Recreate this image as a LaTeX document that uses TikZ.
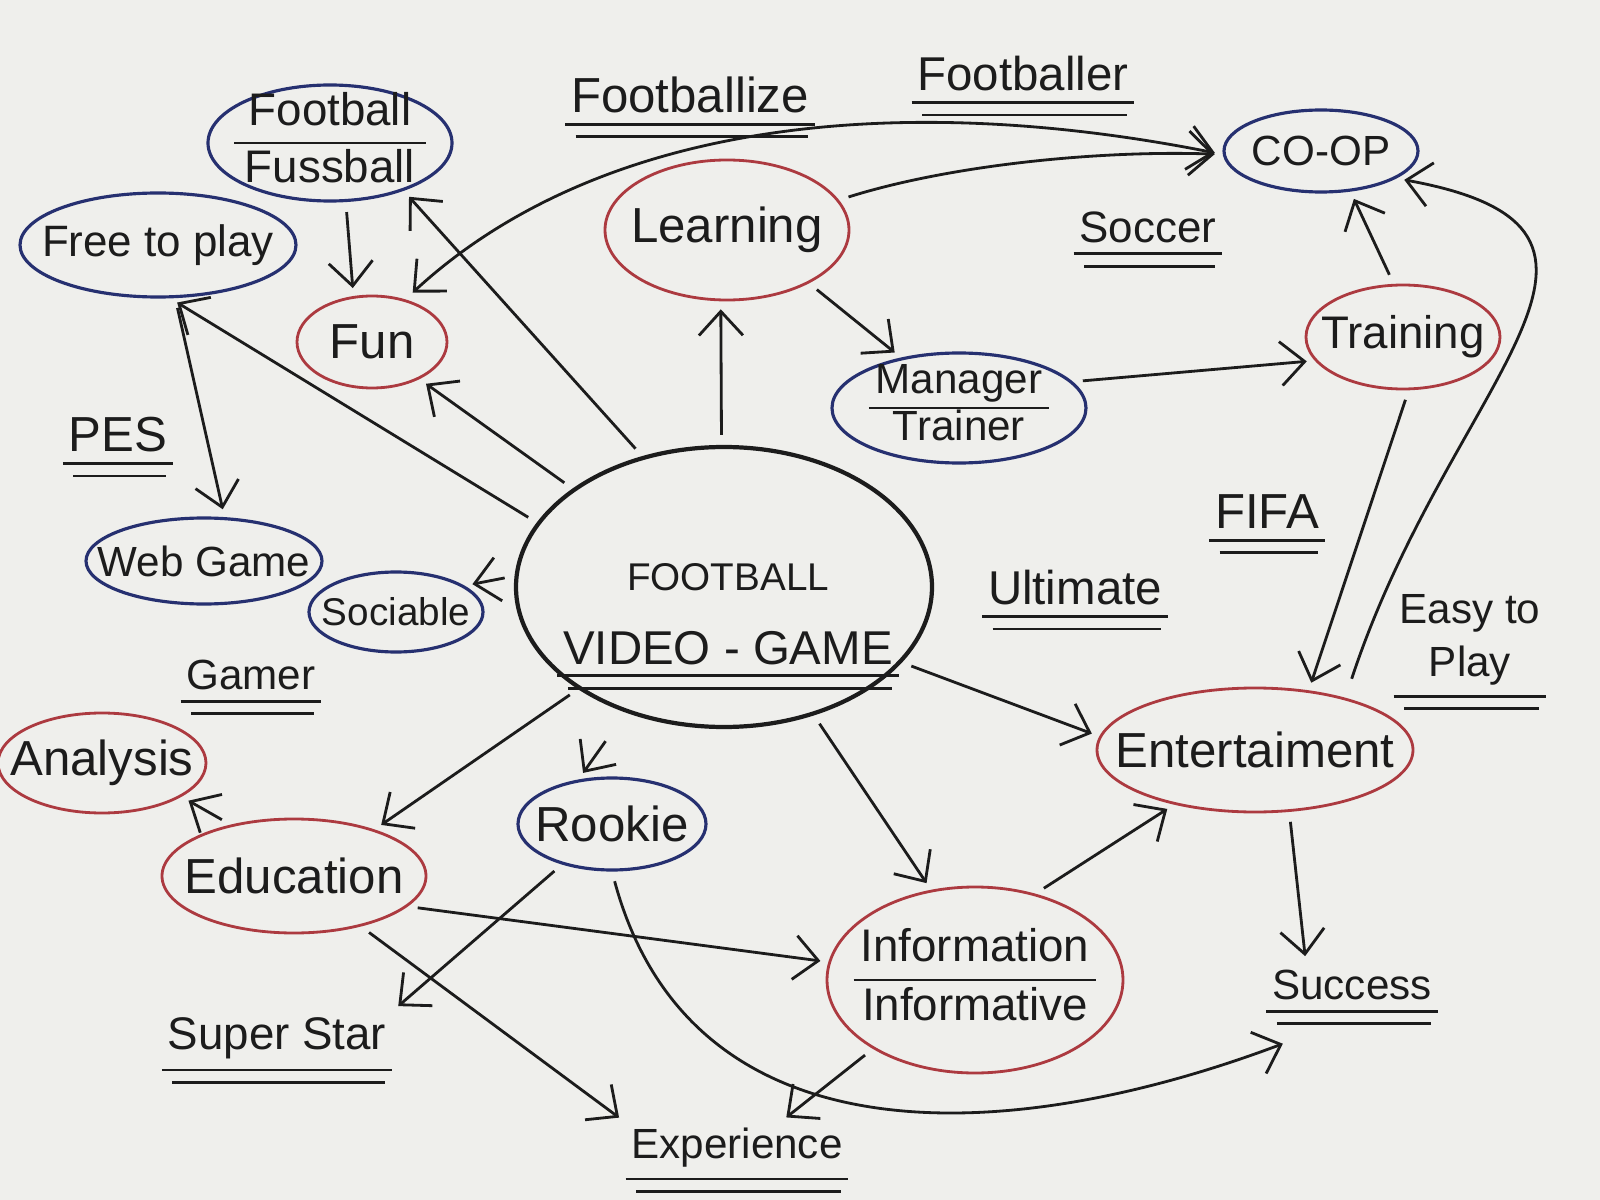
\documentclass[tikz,border=0pt]{standalone}
\usepackage{fontspec}
\setmainfont{Liberation Sans}
\usepackage{tikz}
\usetikzlibrary{
  shapes.geometric,
  arrows.meta
}
\definecolor{paper}{RGB}{239, 239, 236}
\definecolor{penblue}{RGB}{38, 48, 112}
\definecolor{penred}{RGB}{172, 58, 64}
\definecolor{penblack}{RGB}{28, 28, 28}
\setlength{\arrayrulewidth}{0.8pt}
\newcommand{\handsize}{\fontsize{14}{17}\selectfont}
\newcommand{\midhand}{\fontsize{12.5}{15}\selectfont}
\newcommand{\smallhand}{\fontsize{12}{15}\selectfont}
\tikzset{
bubbletext/.style={
  align=center,
  font=\handsize,
  text=penblack
},
bluebubble/.style={
  ellipse,
  draw=penblue,
  line width=0.9pt,
  label={[bubbletext]center:#1}
},
redbubble/.style={
  ellipse,
  draw=penred,
  line width=0.8pt,
  label={[bubbletext]center:#1}
},
mainbubble/.style={
  ellipse,
  draw=penblack,
  line width=1.2pt
},
uline/.style={
  draw=penblack,
  line width=0.8pt
},
keyword/.style={
  inner sep=1.5pt,
  bubbletext,
  append after command={
    ([yshift=-1.5pt]\tikzlastnode.south west) edge[uline] ([yshift=-1.5pt]\tikzlastnode.south east)
    ([xshift=3pt,yshift=-5pt]\tikzlastnode.south west) edge[uline] ([xshift=-2pt,yshift=-5pt]\tikzlastnode.south east)
  }
}
}

\begin{document}
\begin{tikzpicture}[
      x=0.1mm, y=-0.1mm,
      >={Straight Barb[length=2.4mm,width=4.4mm]},
      arr/.style={->, line width=0.8pt, draw=penblack, shorten <=1mm, shorten >=0.8mm},
      twoarr/.style={arr, <->},
    ]
      \useasboundingbox (0,0) rectangle (1600,1200);
      \fill[paper] (0,0) rectangle (1600,1200);

      % Top row
      \node[bluebubble={\fontsize{13}{15.5}\selectfont\begin{tabular}{@{\hspace{3pt}}c@{\hspace{3pt}}}Football\\\hline Fussball\end{tabular}},
            minimum width=24.4mm, minimum height=11.6mm] (football) at (330,143) {};
      \node[bluebubble={\midhand Free to play}, minimum width=27.6mm, minimum height=10.4mm] (free) at (158,245) {};
      \node[redbubble={Fun}, minimum width=15mm, minimum height=9.2mm] (fun) at (372,342) {};
      \node[redbubble={Learning}, minimum width=24.4mm, minimum height=14mm] (learning) at (727,230) {};
      \node[bluebubble={\smallhand CO-OP}, minimum width=19.4mm, minimum height=8.2mm] (coop) at (1321,151) {};
      \node[bluebubble={\smallhand\renewcommand{\arraystretch}{0.85}\begin{tabular}{@{\hspace{2pt}}c@{\hspace{2pt}}}Manager\\\hline Trainer\end{tabular}},
            minimum width=25.4mm, minimum height=11mm] (manager) at (959,408) {};
      \node[redbubble={\fontsize{13}{16}\selectfont Training}, minimum width=19.4mm, minimum height=10.4mm] (training) at (1403,337) {};

      % Centre
      \node[mainbubble, minimum width=41.6mm, minimum height=28mm] (game) at (724,587) {};
      \node[keyword] (gametitle) at (728,614)
        {{\fontsize{11}{13}\selectfont FOOTBALL}\\[4pt]{\fontsize{13.5}{16}\selectfont VIDEO - GAME}};

      % Left side
      \node[bluebubble={\smallhand Web Game}, minimum width=23.6mm, minimum height=8.6mm] (webgame) at (204,561) {};
      \node[bluebubble={\fontsize{11}{13}\selectfont Sociable}, minimum width=17.4mm, minimum height=8mm] (sociable) at (396,612) {};
      \node[redbubble={Analysis}, minimum width=20.8mm, minimum height=10mm] (analysis) at (102,763) {};
      \node[redbubble={Education}, minimum width=26.4mm, minimum height=11.4mm] (education) at (294,876) {};
      \node[bluebubble={Rookie}, minimum width=18.8mm, minimum height=9.2mm] (rookie) at (612,824) {};

      % Right side
      \node[redbubble={Entertaiment}, minimum width=31.6mm, minimum height=12.4mm] (entertain) at (1255,750) {};
      \node[redbubble={\fontsize{13}{16}\selectfont\begin{tabular}{@{\hspace{2pt}}c@{\hspace{2pt}}}Information\\\hline Informative\end{tabular}},
            minimum width=29.6mm, minimum height=18.6mm] (info) at (975,980) {};

      % Loose words
      \node[keyword] (footballize) at (690,95) {Footballize};
      \node[keyword, font=\fontsize{13.5}{16}\selectfont] (footballer) at (1023,74) {Footballer};
      \node[keyword, font=\midhand] (soccer) at (1148,227) {Soccer};
      \node[keyword] (pes) at (118,435) {PES};
      \node[keyword] (fifa) at (1267,512) {FIFA};
      \node[keyword, font=\fontsize{13.5}{16}\selectfont] (ultimate) at (1075,588) {Ultimate};
      \node[keyword, font=\smallhand] (easy) at (1470,640) {Easy to\\Play};
      \node[keyword, font=\smallhand] (gamer) at (251,675) {Gamer};
      \node[keyword, font=\fontsize{13}{16}\selectfont] (superstar) at (277,1038) {Super Star};
      \node[keyword, font=\smallhand] (success) at (1352,985) {Success};
      \node[keyword, font=\smallhand] (experience) at (737,1148) {Experience};

      % Arrows out of the centre
      \draw[arr] (game.122) -- (football.-33);
      \draw[arr] (game.147) -- (fun.-38);
      \draw[arr] (game.161) -- (free.-77);
      \draw[arr] (game.91) -- (learning.-95);
      \draw[arr] (game.177) -- (sociable.21);
      \draw[arr] (game.-145) -- (education.30);
      \draw[arr, shorten <=3.5mm] (game.-128) -- (rookie.127);
      \draw[arr] (game.-23) -- (entertain.175);
      \draw[arr] (game.-55) -- (info.116);

      % Upper half
      \draw[arr] (football.-75) -- (fun.112);
      \draw[arr] (free.-72) -- (webgame.65);
      \draw[arr] (learning.-33) -- (manager.139);
      \draw[arr] (manager.13) -- (training.-165);
      \draw[arr] (training.100) -- (coop.-54);
      \draw[twoarr] (fun.52) .. controls (600,120) and (900,90) .. (coop.182);
      \draw[arr] (learning.15) .. controls (950,165) and (1100,150) .. (coop.182);
      \draw[arr, shorten <=2mm] (entertain.30) .. controls (1450,380) and (1680,230) .. (coop.-20);
      \draw[arr] (training.-84) -- (entertain.48);

      % Lower half
      \draw[arr] (education.141) -- (analysis.-23);
      \draw[arr] (education.-15) -- (info.173);
      \draw[arr] (education.-37) -- (experience.north west);
      \draw[arr] (rookie.-141) -- (superstar.north east);
      \draw[arr] (rookie.-90) .. controls (690,1160) and (1000,1150) .. ([xshift=2.4mm,yshift=-3.5mm]success.south west);
      \draw[arr] (info.55) -- (entertain.-146);
      \draw[arr] (info.-146) -- ([xshift=4.3mm]experience.north);
      \draw[arr] (entertain.-61) -- ([xshift=-4.6mm]success.north);
    \end{tikzpicture}
\end{document}
